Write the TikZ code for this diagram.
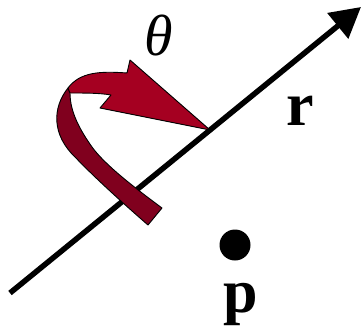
\documentclass[tikz,border=0pt]{standalone}
\usepackage{fontspec}
\setmainfont{Liberation Serif}
\usetikzlibrary{arrows.meta}
\definecolor{RibbonRed}{RGB}{165,0,33}
\definecolor{RibbonDark}{RGB}{128,0,30}
\begin{document}
\begin{tikzpicture}[x=1pt,y=-1pt,
    axis/.style={line width=5.5pt,-{Triangle[length=30pt,width=32pt]}},
    front/.style={draw=black,line width=0.9pt,fill=RibbonRed,line join=round},
    back/.style={draw=black,line width=0.9pt,fill=RibbonDark,line join=round},
    dot/.style={circle,fill=black,minimum size=31pt,inner sep=0pt},
    lbl/.style={font=\fontsize{62}{62}\selectfont\bfseries,anchor=base,inner sep=0pt}]
  \useasboundingbox (0,0) rectangle (363,332);
  \coordinate (tail) at (10,293);
  \coordinate (tip) at (361,7);
  \draw[axis] (tail) -- (tip);
  % rotation ribbon, back face then front face with head
  \draw[back] (68,88) .. controls (52,108) and (52,135) .. (75,157)
    .. controls (95,178) and (125,205) .. (148,225) -- (162,208)
    .. controls (135,188) and (105,165) .. (92,147)
    .. controls (80,130) and (70,112) .. (70,93) -- cycle;
  \draw[front] (210,130) -- (130,60) -- (127,73)
    .. controls (100,71) and (80,72) .. (68,88) -- (70,93)
    .. controls (85,93) and (100,93) .. (111,95) -- (100,108) -- cycle;
  \node[lbl,font=\fontsize{58}{58}\selectfont\itshape] (theta) at (159,55) {θ};
  \node[lbl] (r) at (300,125) {r};
  \node[dot] (p) at (235,245) {};
  \node[lbl] (plabel) at (241,312) {p};
\end{tikzpicture}
\end{document}
